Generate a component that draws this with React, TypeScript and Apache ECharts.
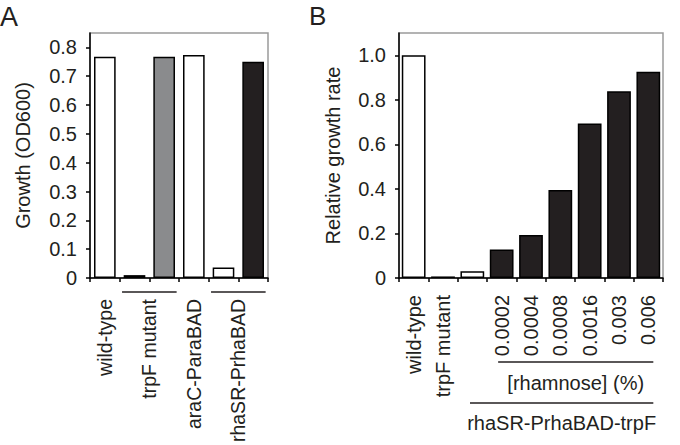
import React, { useEffect, useRef } from 'react';
import * as echarts from 'echarts';

// ---------- Panel A data ----------
const categoriesA = ['wild-type', 'trpF mutant -', 'trpF mutant +', 'araC-ParaBAD', 'rhaSR-PrhaBAD -', 'rhaSR-PrhaBAD +'];
const valuesA = [0.768, 0.01, 0.768, 0.774, 0.036, 0.75];
const fillA = ['open', 'open', 'grey', 'open', 'open', 'solid'];
const yTicksA = [0, 0.1, 0.2, 0.3, 0.4, 0.5, 0.6, 0.7, 0.8];
const groupLabelsA = ['wild-type', 'trpF mutant', 'araC-ParaBAD', 'rhaSR-PrhaBAD'];
const groupFirstA = [0, 1, 3, 4];
const groupLastA = [0, 2, 3, 5];

// ---------- Panel B data ----------
const categoriesB = ['wild-type', 'trpF mutant', '0', '0.0002', '0.0004', '0.0008', '0.0016', '0.003', '0.006'];
const tickLabelsB = ['wild-type', 'trpF mutant', '', '0.0002', '0.0004', '0.0008', '0.0016', '0.003', '0.006'];
const valuesB = [1.0, 0.007, 0.03, 0.128, 0.193, 0.395, 0.694, 0.839, 0.926];
const fillB = ['open', 'solid', 'open', 'solid', 'solid', 'solid', 'solid', 'solid', 'solid'];
const yTicksB = [0, 0.2, 0.4, 0.6, 0.8, 1.0];
const bracketTextB = ['[rhamnose] (%)', 'rhaSR-PrhaBAD-trpF'];
const bracketFirstB = [3, 2];
const bracketLastB = [8, 8];

const FONT = 'Liberation Sans, Arial, Helvetica, sans-serif';
const FS = 20;
const TXT = '#231f20';
const FILLS: Record<string, string> = { open: '#ffffff', grey: '#8a8b8d', solid: '#231f20' };

const fmtTick = (v: number) => (Math.abs(v) < 1e-9 ? '0' : v.toFixed(1));

export default function App() {
  const ref = useRef<HTMLDivElement>(null);
  useEffect(() => {
    const chart = echarts.init(ref.current!, null, { renderer: 'svg' });
    const axisLine = { show: true, onZero: false, lineStyle: { color: '#000', width: 1.5 } };
    const yAxisCommon = (ticks: number[], max: number, name: string, gap: number, grid: number) => ({
      type: 'value',
      gridIndex: grid,
      min: 0,
      max,
      name,
      nameLocation: 'middle',
      nameGap: gap,
      nameRotate: 90,
      nameTextStyle: { fontSize: FS, fontFamily: FONT, color: TXT },
      axisLine,
      axisTick: { show: true, length: 4, inside: false, customValues: ticks, lineStyle: { color: '#000', width: 1.5 } },
      axisLabel: { customValues: ticks, formatter: fmtTick, fontSize: FS, fontFamily: FONT, color: TXT, margin: 13 },
      splitLine: { show: false },
    });

    const option: any = {
      animation: false,
      backgroundColor: '#ffffff',
      grid: [
        { left: 90, top: 33, width: 178, height: 245, show: true, borderColor: '#9a9a9a', borderWidth: 1.5, backgroundColor: 'transparent' },
        { left: 399, top: 33, width: 264, height: 245, show: true, borderColor: '#9a9a9a', borderWidth: 1.5, backgroundColor: 'transparent' },
      ],
      xAxis: [
        {
          type: 'category', gridIndex: 0, data: categoriesA, boundaryGap: true, position: 'bottom',
          axisLine, axisTick: { show: true, length: 4, interval: 0, lineStyle: { color: '#000', width: 1.5 } },
          axisLabel: { show: false },
        },
        {
          type: 'category', gridIndex: 1, data: categoriesB, boundaryGap: true, position: 'bottom',
          axisLine, axisTick: { show: true, length: 4, interval: 0, lineStyle: { color: '#000', width: 1.5 } },
          axisLabel: {
            interval: 0, rotate: 90, margin: 17, fontSize: FS, fontFamily: FONT, color: TXT,
            formatter: (_v: string, i: number) => tickLabelsB[i],
          },
        },
      ],
      yAxis: [
        yAxisCommon(yTicksA, 0.85, 'Growth (OD600)', 57, 0),
        yAxisCommon(yTicksB, 1.1, 'Relative growth rate', 56, 1),
      ],
      series: [
        {
          type: 'bar', xAxisIndex: 0, yAxisIndex: 0, barWidth: '73%',
          data: valuesA.map((v, i) => ({ value: v, itemStyle: { color: FILLS[fillA[i]], borderColor: '#000', borderWidth: 1.5 } })),
        },
        {
          type: 'bar', xAxisIndex: 1, yAxisIndex: 1, barWidth: '81%',
          data: valuesB.map((v, i) => ({ value: v, itemStyle: { color: FILLS[fillB[i]], borderColor: '#000', borderWidth: 1.5 } })),
        },
      ],
    };
    chart.setOption(option);

    // category index -> pixel (linear between category centres)
    const catPx = (axisIndex: number, v: number) => {
      const a = chart.convertToPixel({ xAxisIndex: axisIndex }, 0) as number;
      const b = chart.convertToPixel({ xAxisIndex: axisIndex }, 1) as number;
      return a + (b - a) * v;
    };
    const y0A = chart.convertToPixel({ yAxisIndex: 0 }, 0) as number;
    const y0B = chart.convertToPixel({ yAxisIndex: 1 }, 0) as number;

    const lineStyle = { stroke: '#231f20', lineWidth: 1.5 };
    const graphics: any[] = [
      { type: 'text', x: 0, y: 3, style: { text: 'A', fontSize: 27, fontFamily: FONT, fill: TXT } },
      { type: 'text', x: 309, y: 3, style: { text: 'B', fontSize: 26, fontFamily: FONT, fill: TXT } },
    ];
    // panel A rotated group labels and underlines
    groupFirstA.forEach((f, i) => {
      const mid = (f + groupLastA[i]) / 2;
      graphics.push({
        type: 'text', x: catPx(0, mid), y: y0A + 21, rotation: Math.PI / 2,
        style: { text: groupLabelsA[i], fontSize: 19.5, fontFamily: FONT, fill: TXT, align: 'right', verticalAlign: 'middle' },
      });
      if (groupLastA[i] === f) return;
      graphics.push({
        type: 'line',
        shape: { x1: catPx(0, f - 0.42), y1: y0A + 14, x2: catPx(0, groupLastA[i] + 0.42), y2: y0A + 14 },
        style: lineStyle,
      });
    });
    const lineOffsets = [84, 125];
    const textOffsets = [105, 145];
    bracketTextB.forEach((t, i) => {
      const x1 = catPx(1, bracketFirstB[i] - (i === 0 ? 0.12 : 0.08));
      const x2 = catPx(1, bracketLastB[i] + 0.17);
      graphics.push({ type: 'line', shape: { x1, y1: y0B + lineOffsets[i], x2, y2: y0B + lineOffsets[i] }, style: lineStyle });
      graphics.push({
        type: 'text', x: (x1 + x2) / 2, y: y0B + textOffsets[i],
        style: { text: t, fontSize: FS, fontFamily: FONT, fill: TXT, align: 'center', verticalAlign: 'middle' },
      });
    });
    chart.setOption({ graphic: graphics });

    return () => chart.dispose();
  }, []);
  return <div ref={ref} style={{ position: 'fixed', left: 0, top: 0, width: 680, height: 445, background: '#fff' }} />;
}
